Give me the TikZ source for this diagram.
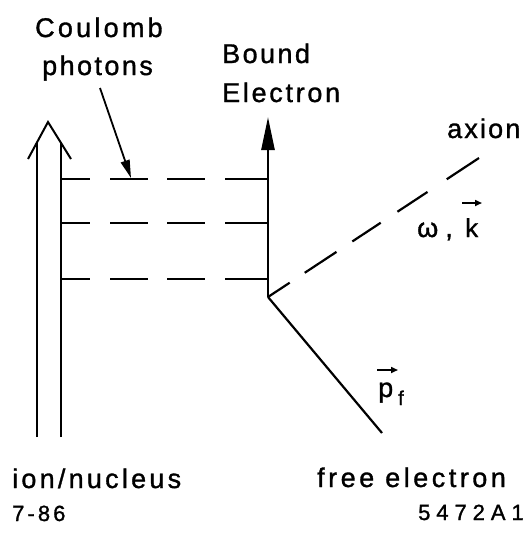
\documentclass[tikz,border=0pt]{standalone}
\usepackage{fontspec}
\setmainfont{Liberation Sans}[FakeBold=1.2]
\usetikzlibrary{arrows.meta}
\newcommand\lab[3]{\fontsize{#1}{#1}\selectfont\addfontfeature{LetterSpace=#2}#3}
\begin{document}
\begin{tikzpicture}[x=1pt,y=-1pt,
  lbl/.style={inner sep=0pt, anchor=base west},
  stroke/.style={line width=2.2pt},
  vecarrow/.style={line width=1.6pt, -{Triangle[length=7pt,width=6pt]}},
  photon/.style={line width=2.2pt, dash pattern=on 29pt off 20pt on 38pt off 19pt on 38pt off 20pt on 45pt},
  axionline/.style={line width=2.2pt, dash pattern=on 26pt off 18pt on 38pt off 19pt on 34pt off 20pt on 36pt off 23pt on 40pt}]
\useasboundingbox (0,0) rectangle (532,542);
% ion / nucleus double arrow
\coordinate (nl0) at (37,437);
\coordinate (nl1) at (37,142);
\coordinate (nr0) at (61,437);
\coordinate (nr1) at (61,142);
\coordinate (nt) at (48,122);
\coordinate (nwl) at (28,159);
\coordinate (nwr) at (71,159);
\draw[line width=2pt] (nl0) -- (nl1);
\draw[line width=2pt] (nr0) -- (nr1);
\draw[line width=2pt, line join=miter] (nwl) -- (nt) -- (nwr);
% bound electron
\coordinate (v) at (268,297);
\coordinate (bt) at (268,117);
\draw[line width=2.6pt, -{Triangle[length=33pt,width=13pt]}] (v) -- (bt);
% photons
\coordinate (p1a) at (61,179); \coordinate (p1b) at (268,179);
\coordinate (p2a) at (61,223); \coordinate (p2b) at (268,223);
\coordinate (p3a) at (61,279); \coordinate (p3b) at (268,279);
\draw[photon] (p1a) -- (p1b);
\draw[photon] (p2a) -- (p2b);
\draw[photon] (p3a) -- (p3b);
% axion
\coordinate (ax) at (479,158);
\draw[axionline] (v) -- (ax);
% free electron
\coordinate (fe) at (382,433);
\draw[stroke] (v) -- (fe);
% Coulomb arrow
\coordinate (ca) at (100,88);
\coordinate (cb) at (131,178);
\draw[line width=1.8pt, -{Triangle[length=18pt,width=9pt]}] (ca) -- (cb);
% labels
\node[lbl] (coul) at (35,37) {\lab{27pt}{12}{Coulomb}};
\node[lbl] (phot) at (42,75) {\lab{27pt}{9}{photons}};
\node[lbl] (bound) at (222,63) {\lab{27pt}{9}{Bound}};
\node[lbl] (elec) at (222,102) {\lab{27pt}{10}{Electron}};
\node[lbl] (axion) at (447,138) {\lab{27pt}{8}{axion}};
\node[lbl] (omega) at (417,237) {\lab{27pt}{0}{ω\hspace{7pt},}};
\node[lbl] (k) at (465,237) {\lab{26pt}{0}{k}};
\node[lbl] (p) at (378,397) {\lab{27pt}{0}{p}};
\node[lbl] (f) at (398,405) {\lab{20pt}{0}{f}};
\node[lbl] (ion) at (12,488) {\lab{27pt}{12}{ion/nucleus}};
\node[lbl] (free) at (317,487) {\lab{27pt}{13}{free electron}};
\node[lbl] (date) at (12,521) {\lab{22pt}{14}{7-86}};
\node[lbl] (num) at (418,520) {\lab{22pt}{27}{5472A1}};
% vector arrows over k and p
\coordinate (ka) at (462,203); \coordinate (kb) at (482,203);
\coordinate (pa) at (377,370); \coordinate (pb) at (398,370);
\draw[vecarrow] (ka) -- (kb);
\draw[vecarrow] (pa) -- (pb);
\end{tikzpicture}
\end{document}
